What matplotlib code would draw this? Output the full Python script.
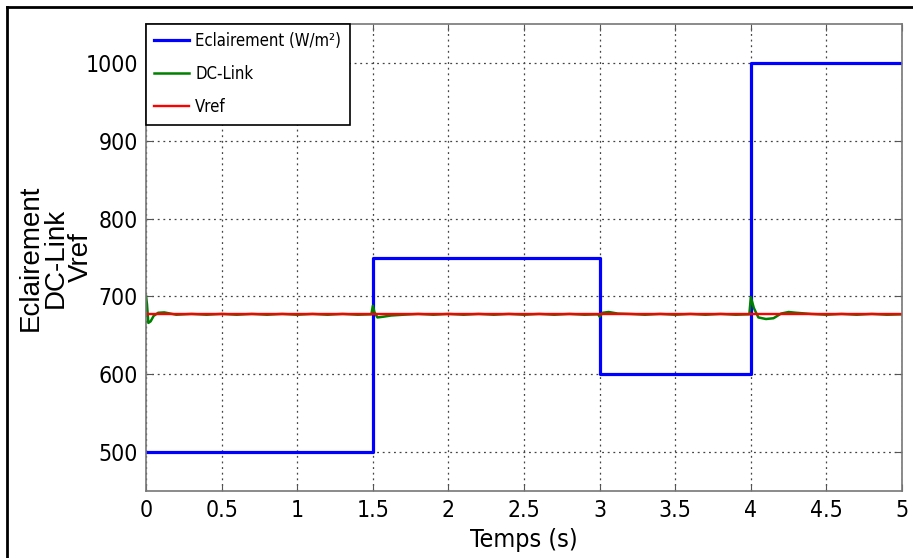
import matplotlib
matplotlib.use('Agg')
import matplotlib.pyplot as plt
from matplotlib.lines import Line2D

plt.rcParams['font.family'] = ['DejaVu Sans']
plt.rcParams['font.stretch'] = 'condensed'

# Eclairement (W/m2), step profile
ecl_t = [0.0, 1.5, 1.5, 2.4, 2.4, 3.0, 3.0, 4.0, 4.0, 5.0]
ecl_v = [500, 500, 750, 750, 749, 749, 600, 600, 1000, 1000]

# DC-Link voltage
dc_t = [0.000, 0.006, 0.015, 0.030, 0.050, 0.080, 0.120, 0.160, 0.20, 0.30, 0.40, 0.50,
        0.60, 0.70, 0.80, 0.90, 1.00, 1.10, 1.20, 1.30, 1.40, 1.49,
        1.500, 1.510, 1.530, 1.570, 1.620, 1.70, 1.80, 1.90, 2.00, 2.10, 2.20, 2.30,
        2.40, 2.50, 2.60, 2.70, 2.80, 2.90, 2.99,
        3.000, 3.020, 3.060, 3.120, 3.20, 3.30, 3.40, 3.50, 3.60, 3.70, 3.80, 3.90, 3.99,
        4.000, 4.020, 4.050, 4.100, 4.150, 4.200, 4.250, 4.30, 4.40, 4.50, 4.60,
        4.70, 4.80, 4.90, 5.00]
dc_v = [700, 690, 666, 668, 675, 679, 679.5, 678, 676.5, 677.5, 676.5, 677.5,
        676.5, 677.5, 676.5, 677.5, 676.5, 677.5, 676.5, 677.5, 676.5, 677,
        688, 680, 673, 674, 675.5, 676.5, 677.5, 676.5, 677.5, 676.5, 677.5, 676.5,
        677.5, 676.5, 677.5, 676.5, 677.5, 676.5, 677,
        674, 679, 680, 678, 677.5, 676.5, 677.5, 676.5, 677.5, 676.5, 677.5, 676.5, 677,
        699, 685, 673, 671, 672, 678, 680, 679, 677.5, 676.5, 677.5,
        676.5, 677.5, 676.5, 677]

# Vref
vref_t = [0.0, 5.0]
vref_v = [678, 678]

x_ticks = [0, 0.5, 1, 1.5, 2, 2.5, 3, 3.5, 4, 4.5, 5]
x_labels = ['0', '0.5', '1', '1.5', '2', '2.5', '3', '3.5', '4', '4.5', '5']
y_ticks = [500, 600, 700, 800, 900, 1000]

fig = plt.figure(figsize=(9.13, 5.58), dpi=100)
ax = fig.add_axes([0.160, 0.120, 0.828, 0.837])

ax.plot(ecl_t, ecl_v, color='#0000ff', lw=2.3, label='Eclairement (W/m²)')
ax.plot(dc_t, dc_v, color='#008000', lw=1.8, label='DC-Link')
ax.plot(vref_t, vref_v, color='#ff0000', lw=1.7, label='Vref')

ax.set_xlim(0, 5)
ax.set_ylim(450, 1050)
ax.set_xticks(x_ticks)
ax.set_xticklabels(x_labels)
ax.set_yticks(y_ticks)
ax.tick_params(direction='in', top=True, right=True, labelsize=16.5, length=5,
               color='#555555', pad=6)
for s in ax.spines.values():
    s.set_color('#777777')
    s.set_linewidth(1.2)
ax.grid(True, linestyle=(0, (1.5, 3)), color='#444444', linewidth=0.9)

ax.set_xlabel('Temps (s)', fontsize=18, labelpad=4)
ax.set_ylabel('Eclairement\nDC-Link\nVref', fontsize=20,
              family=['Liberation Sans', 'DejaVu Sans'], fontstretch='normal',
              linespacing=0.95)
ax.yaxis.set_label_coords(-0.069, 0.5)

leg = ax.legend(loc='upper left', borderaxespad=0, fontsize=12, fancybox=False,
                framealpha=1, edgecolor='black', handlelength=2.1, handletextpad=0.35,
                labelspacing=0.9, borderpad=0.5)
leg.get_frame().set_linewidth(1.2)

# outer frame (left and top edges visible)
fig.add_artist(Line2D([0.0075, 0.0075], [0.0, 0.987], color='black', lw=2, transform=fig.transFigure))
fig.add_artist(Line2D([0.0075, 1.0], [0.987, 0.987], color='black', lw=2, transform=fig.transFigure))

fig.savefig('out.png', dpi=100)
